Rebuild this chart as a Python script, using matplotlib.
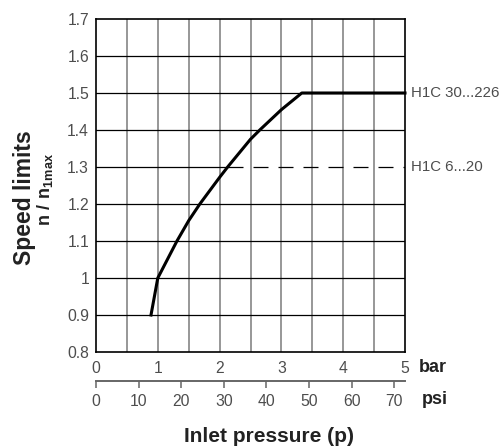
import matplotlib
matplotlib.use("Agg")
import matplotlib.pyplot as plt
import numpy as np

# ---- data ----
pressure_bar = [0.89, 1.0, 1.31, 1.5, 1.68, 2.0, 2.13, 2.5, 2.65, 3.0, 3.33, 5.0]
speed_ratio = [0.9, 1.0, 1.1, 1.155, 1.2, 1.272, 1.3, 1.375, 1.4, 1.455, 1.5, 1.5]
h1c_small_level = 1.3
y_ticks = [0.8, 0.9, 1.0, 1.1, 1.2, 1.3, 1.4, 1.5, 1.6, 1.7]
y_tick_labels = ["0.8", "0.9", "1", "1.1", "1.2", "1.3", "1.4", "1.5", "1.6", "1.7"]
bar_ticks = [0, 1, 2, 3, 4, 5]
psi_ticks = [0, 10, 20, 30, 40, 50, 60, 70]
series_labels = ["H1C 30...226", "H1C 6...20"]
BAR_TO_PSI = 14.5038

plt.rcParams['font.family'] = ['Liberation Sans', 'DejaVu Sans']
plt.rcParams['mathtext.fontset'] = 'custom'
plt.rcParams['mathtext.rm'] = 'Liberation Sans'
plt.rcParams['mathtext.bf'] = 'Liberation Sans:bold'

W, H = 504, 447
fig = plt.figure(figsize=(W / 100, H / 100), dpi=100)
L, R, T, B = 96, 405, 19, 352
ax = fig.add_axes([L / W, 1 - B / H, (R - L) / W, (B - T) / H])

txt_col = '#4d4d4d'
fs = 11.3

ax.set_xlim(0, 5)
ax.set_ylim(0.8, 1.7)

# grid
for xv in np.arange(0.5, 5.0, 0.5):
    ax.axvline(xv, color='#7a7a7a', lw=1.1, zorder=1)
x_cross = float(np.interp(h1c_small_level, speed_ratio[:10], pressure_bar[:10]))
for yv in y_ticks[1:-1]:
    if abs(yv - h1c_small_level) < 1e-9:
        ax.plot([0, x_cross], [yv, yv], color='black', lw=0.9, zorder=1)
    else:
        ax.axhline(yv, color='black', lw=0.9, zorder=1)

# dashed H1C 6...20 line
ax.plot([x_cross, 5], [h1c_small_level, h1c_small_level], color='black', lw=0.9,
        dashes=(12, 8), zorder=2)
# main curve
ax.plot(pressure_bar, speed_ratio, color='black', lw=2.2, zorder=3,
        solid_joinstyle='round', clip_on=False)

for s in ax.spines.values():
    s.set_linewidth(1.2)
    s.set_color('black')

ax.set_yticks(y_ticks)
ax.set_yticklabels(y_tick_labels)
ax.set_xticks(bar_ticks)
ax.set_xticklabels([str(b) for b in bar_ticks])
ax.tick_params(axis='y', length=0, pad=5, labelsize=fs, labelcolor=txt_col)
ax.tick_params(axis='x', length=0, pad=6.3, labelsize=fs, labelcolor=txt_col)

# psi secondary axis
sec = ax.secondary_xaxis(-(381 - B) / (B - T),
                         functions=(lambda b: np.asarray(b) * BAR_TO_PSI,
                                    lambda p: np.asarray(p) / BAR_TO_PSI))
sec.set_xticks(psi_ticks)
sec.set_xticklabels([str(p) for p in psi_ticks])
sec.spines['bottom'].set_color('#666666')
sec.spines['bottom'].set_linewidth(1.4)
sec.tick_params(axis='x', direction='out', length=5, width=1.1, color='#666666',
                pad=4.3, labelsize=fs, labelcolor=txt_col)

# right labels
for lvl, lab in zip([1.5, h1c_small_level], series_labels):
    ax.annotate(lab, xy=(5, lvl), xytext=(4, 0), textcoords='offset points',
                ha='left', va='center', fontsize=10.8, color=txt_col,
                annotation_clip=False)

def fx(x):
    return x / W

def fy(y):
    return 1 - y / H

fig.text(fx(418.5), fy(367), "bar", ha='left', va='center', fontsize=13,
         fontweight='bold', color='#222222')
fig.text(fx(421.5), fy(400), "psi", ha='left', va='center', fontsize=13,
         fontweight='bold', color='#222222')
fig.text(fx(269), fy(437), "Inlet pressure (p)", ha='center', va='center',
         fontsize=15, fontweight='bold', color='#222222')
fig.text(fx(25), fy(198), "Speed limits", ha='center', va='center', rotation=90,
         fontsize=16.5, fontweight='bold', color='#222222')
fig.text(fx(45), fy(189), r"$\mathbf{n\ /\ n_{1max}}$", ha='center', va='center',
         rotation=90, fontsize=13, color='#222222')

fig.savefig("out.png", dpi=100)
